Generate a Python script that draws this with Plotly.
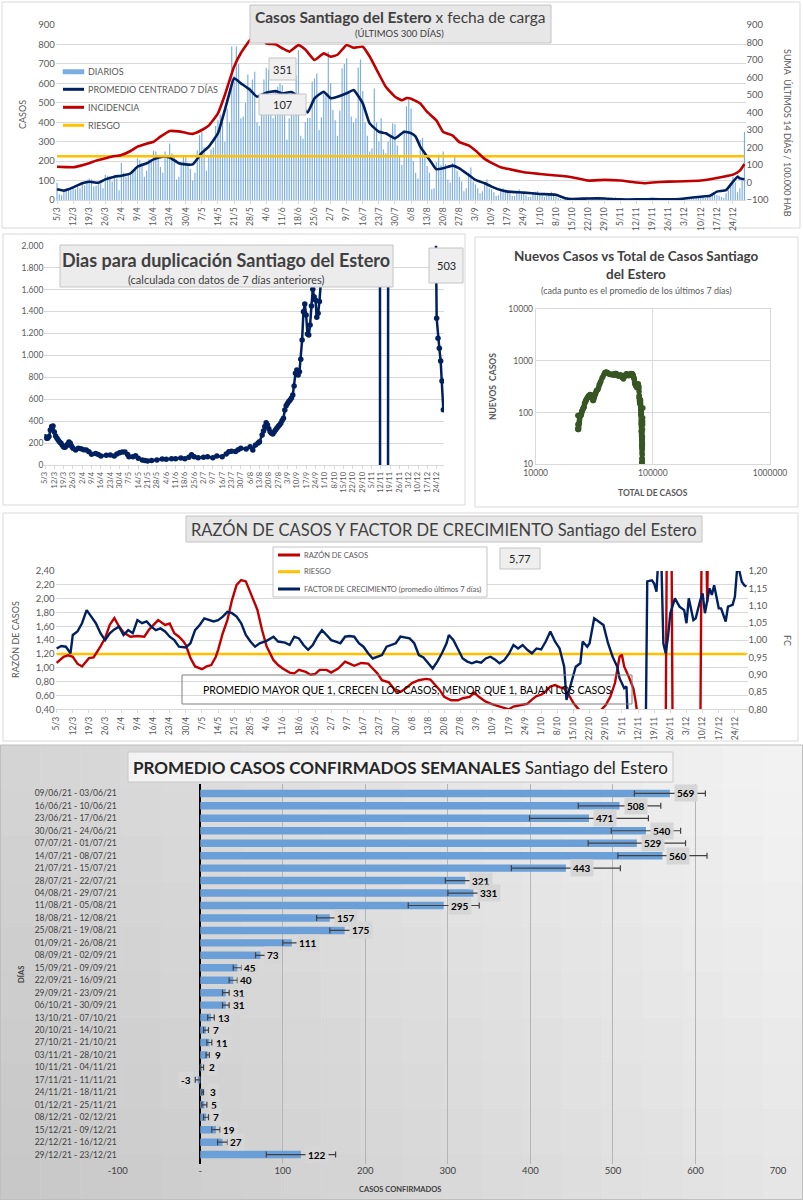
import pandas as pd
import plotly.graph_objects as go

W, H = 803, 1200
FONT = "Lato"
GREY = "#595959"
NAVY = "#002060"
RED = "#c00000"
ORANGE = "#ffc000"
BLUE_BAR = "#7aade0"


def fecha(s):
    d, m = s.split("/")
    return pd.Timestamp(2021, int(m), int(d))


# ------------------------------------------------------------------ DATA
FECHA_INICIO = "5/3"
DIAS_TOTALES = 300
FECHAS = pd.date_range(fecha(FECHA_INICIO), periods=DIAS_TOTALES, freq="D")

TICK_LABELS = ["5/3", "12/3", "19/3", "26/3", "2/4", "9/4", "16/4", "23/4", "30/4", "7/5",
               "14/5", "21/5", "28/5", "4/6", "11/6", "18/6", "25/6", "2/7", "9/7", "16/7",
               "23/7", "30/7", "6/8", "13/8", "20/8", "27/8", "3/9", "10/9", "17/9", "24/9",
               "1/10", "8/10", "15/10", "22/10", "29/10", "5/11", "12/11", "19/11", "26/11",
               "3/12", "10/12", "17/12", "24/12"]

# daily cases (DIARIOS): 5/3-10/3, then Thursday-Wednesday weeks
DIARIOS = [
    88, 30, 25, 45, 60, 55,
    50, 65, 55, 70, 60, 85, 75,
    100, 110, 105, 70, 75, 85, 100,
    60, 130, 125, 120, 95, 130, 110,
    50, 190, 140, 120, 135, 130, 145,
    170, 215, 205, 190, 120, 150, 210,
    210, 255, 250, 230, 170, 140, 250,
    230, 290, 240, 225, 105, 120, 190,
    230, 220, 175, 160, 100, 140, 255,
    335, 350, 270, 150, 220, 260, 270,
    380, 410, 440, 400, 300, 470, 400,
    790, 640, 790, 700, 420, 430, 500,
    645, 580, 620, 660, 400, 380, 495,
    620, 680, 670, 450, 420, 560, 583,
    600, 590, 520, 310, 420, 560, 556,
    640, 770, 330, 315, 400, 420, 422,
    610, 625, 650, 360, 425, 560, 550,
    763, 600, 463, 410, 330, 460, 677,
    700, 729, 560, 430, 400, 420, 681,
    722, 560, 400, 330, 250, 265, 574,
    400, 300, 420, 260, 240, 300, 327,
    395, 390, 280, 230, 180, 360, 482,
    515, 470, 200, 140, 110, 310, 320,
    240, 175, 140, 55, 60, 195, 234,
    180, 250, 185, 105, 90, 190, 225,
    150, 120, 95, 45, 60, 140, 167,
    95, 80, 60, 35, 45, 90, 106,
    60, 55, 40, 20, 25, 55, 60,
    55, 50, 35, 20, 20, 45, 55,
    40, 40, 25, 15, 15, 40, 42,
    45, 35, 25, 15, 20, 35, 42,
    25, 20, 10, 5, 3, 12, 16,
    10, 9, 6, 3, 2, 8, 11,
    15, 14, 8, 5, 6, 12, 17,
    12, 11, 7, 4, 5, 10, 14,
    4, 3, 2, 0, 1, 2, 2,
    2, 1, -30, 0, 1, 2, 3,
    4, 3, 3, 2, 1, 4, 4,
    6, 5, 5, 3, 3, 6, 7,
    9, 8, 6, 4, 5, 8, 9,
    15, 18, 16, 10, 14, 25, 35,
    30, 25, 22, 15, 12, 35, 50,
    80, 120, 90, 40, 60, 113, 351,
]
TOTAL_PREVIO = 22800  # accumulated cases before 5/3

PROM7_FECHAS = ["5/3", "8/3", "10/3", "12/3", "16/3", "19/3", "23/3", "26/3", "30/3", "2/4",
                "6/4", "9/4", "13/4", "16/4", "20/4", "23/4", "27/4", "30/4", "3/5", "7/5",
                "10/5", "14/5", "17/5", "19/5", "21/5", "24/5", "28/5", "31/5", "4/6", "8/6",
                "11/6", "15/6", "18/6", "20/6", "22/6", "25/6", "29/6", "2/7", "5/7", "9/7",
                "12/7", "16/7", "19/7", "23/7", "26/7", "30/7", "3/8", "6/8", "8/8", "10/8",
                "13/8", "15/8", "17/8", "20/8", "24/8", "27/8", "31/8", "3/9", "7/9", "10/9",
                "14/9", "17/9", "24/9", "1/10", "8/10", "12/10", "15/10", "22/10", "29/10",
                "5/11", "12/11", "19/11", "26/11", "3/12", "10/12", "14/12", "17/12", "21/12",
                "24/12", "26/12", "27/12", "29/12"]
PROM7 = [55, 48, 55, 65, 86, 94, 89, 106, 120, 125,
         137, 171, 189, 209, 223, 219, 189, 183, 183, 243,
         274, 343, 463, 550, 626, 600, 566, 531, 552, 560,
         548, 555, 530, 480, 450, 523, 557, 523, 531, 549,
         566, 497, 394, 351, 343, 317, 351, 343, 326, 274,
         223, 190, 158, 163, 177, 163, 129, 103, 86, 69,
         51, 43, 38, 31, 27, 9, 5, 8, 8,
         3, 3, 5, 3, 8, 17, 22, 43, 51,
         94, 120, 111, 107]

INCID_FECHAS = ["5/3", "9/3", "12/3", "15/3", "19/3", "22/3", "26/3", "29/3", "2/4", "6/4",
                "9/4", "13/4", "16/4", "19/4", "23/4", "27/4", "30/4", "3/5", "7/5", "10/5",
                "14/5", "17/5", "21/5", "24/5", "28/5", "31/5", "2/6", "4/6", "8/6", "11/6",
                "14/6", "18/6", "21/6", "25/6", "29/6", "2/7", "5/7", "9/7", "12/7", "16/7",
                "19/7", "23/7", "26/7", "30/7", "2/8", "4/8", "6/8", "10/8", "13/8", "17/8",
                "20/8", "24/8", "27/8", "31/8", "3/9", "7/9", "10/9", "14/9", "17/9", "24/9",
                "1/10", "8/10", "15/10", "22/10", "29/10", "5/11", "12/11", "16/11", "19/11",
                "26/11", "3/12", "10/12", "17/12", "24/12", "27/12", "29/12"]
INCIDENCIA = [90, 88, 87, 95, 110, 125, 138, 148, 157, 180,
              205, 222, 233, 262, 294, 292, 284, 278, 300, 325,
              395, 500, 662, 740, 814, 835, 840, 795, 790, 767,
              748, 785, 760, 700, 738, 719, 730, 786, 770, 776,
              720, 620, 547, 490, 470, 482, 479, 451, 403, 355,
              288, 269, 231, 212, 183, 135, 112, 87, 78, 59,
              49, 40, 30, 11, 15, 11, 0, -4, 0,
              5, 7, 11, 26, 45, 68, 106]
RIESGO_INCIDENCIA = 150

DUP_FECHAS = ["5/3", "6/3", "7/3", "8/3", "9/3", "10/3", "11/3", "12/3", "13/3", "14/3",
              "15/3", "16/3", "17/3", "18/3", "19/3", "20/3", "21/3", "22/3", "23/3", "24/3",
              "25/3", "26/3", "28/3", "30/3", "1/4", "3/4", "5/4", "7/4", "9/4", "12/4",
              "14/4", "16/4", "20/4", "23/4", "26/4", "28/4", "30/4", "2/5", "4/5", "6/5",
              "7/5", "10/5", "12/5", "14/5", "17/5", "19/5", "21/5", "24/5", "28/5", "1/6",
              "4/6", "8/6", "11/6", "15/6", "18/6", "21/6", "23/6", "25/6", "28/6", "2/7",
              "5/7", "9/7", "12/7", "16/7", "19/7", "21/7", "23/7", "26/7", "28/7", "30/7",
              "3/8", "6/8", "8/8", "10/8", "12/8", "13/8", "15/8", "16/8", "17/8", "18/8",
              "19/8", "20/8", "21/8", "22/8", "23/8", "24/8", "25/8", "26/8", "27/8", "28/8",
              "29/8", "30/8", "31/8", "1/9", "2/9", "3/9", "4/9", "5/9", "6/9", "7/9",
              "8/9", "9/9", "10/9", "11/9", "12/9", "13/9", "14/9", "15/9", "16/9", "17/9",
              "18/9", "19/9", "20/9", "21/9", "22/9", "23/9", "24/9", "25/9", "26/9", "27/9",
              "28/9", "29/9", "6/10", "15/10", "25/10", "5/11", "11/11", "12/11", "17/11", "18/11",
              "30/11", "10/12", "20/12", "23/12", "24/12", "25/12", "26/12", "27/12", "28/12", "29/12"]
DUPLICACION = [258, 245, 243, 260, 319, 350, 356, 300, 265, 243,
               225, 210, 198, 180, 165, 161, 173, 190, 210, 198,
               170, 152, 137, 152, 148, 140, 137, 120, 97, 106,
               95, 82, 88, 91, 82, 100, 112, 118, 119, 95,
               76, 76, 85, 61, 46, 40, 36, 40, 46, 55,
               52, 58, 58, 64, 58, 70, 94, 76, 67, 70,
               76, 67, 82, 76, 100, 120, 125, 122, 140, 152,
               146, 167, 137, 182, 200, 213, 274, 310, 350, 386,
               365, 330, 304, 290, 283, 300, 319, 335, 350, 365,
               380, 405, 426, 502, 540, 562, 580, 593, 610, 638,
               720, 836, 866, 821, 851, 964, 1140, 1398, 1468, 1368,
               1195, 1186, 1277, 1450, 1602, 1535, 1505, 1347, 1383, 1490,
               1657, 2600, 4000, 6000, 5000, 9000, 15000, -15000, -15000, 15000,
               12000, 8000, 3500, 2600, 1338, 1155, 1064, 948, 766, 503]

RAZON_FECHAS = ["5/3", "8/3", "10/3", "12/3", "14/3", "16/3", "19/3", "21/3", "24/3", "26/3",
                "28/3", "30/3", "1/4", "3/4", "6/4", "9/4", "12/4", "14/4", "16/4", "18/4",
                "21/4", "23/4", "25/4", "27/4", "29/4", "30/4", "2/5", "4/5", "7/5", "9/5",
                "11/5", "13/5", "14/5", "16/5", "18/5", "20/5", "22/5", "24/5", "26/5", "28/5",
                "31/5", "2/6", "4/6", "7/6", "9/6", "11/6", "14/6", "16/6", "18/6", "21/6",
                "23/6", "25/6", "27/6", "30/6", "2/7", "5/7", "8/7", "10/7", "12/7", "15/7",
                "18/7", "20/7", "22/7", "24/7", "27/7", "30/7", "1/8", "4/8", "6/8", "9/8",
                "12/8", "14/8", "16/8", "18/8", "20/8", "23/8", "26/8", "28/8", "31/8", "2/9",
                "4/9", "7/9", "10/9", "13/9", "15/9", "17/9", "19/9", "21/9", "23/9", "25/9",
                "27/9", "29/9", "1/10", "3/10", "5/10", "7/10", "9/10", "11/10", "13/10", "15/10",
                "17/10", "19/10", "22/10", "25/10", "27/10", "29/10", "31/10", "2/11", "4/11", "5/11",
                "6/11", "8/11", "10/11", "11/11", "12/11", "13/11", "24/11", "25/11", "26/11", "27/11",
                "9/12", "10/12", "11/12", "12/12", "13/12", "20/12", "29/12"]
RAZON = [1.07, 1.16, 1.18, 1.16, 1.06, 1.02, 1.14, 1.15, 1.31, 1.43,
         1.62, 1.72, 1.60, 1.51, 1.45, 1.46, 1.45, 1.55, 1.62, 1.69,
         1.62, 1.64, 1.50, 1.45, 1.38, 1.33, 1.14, 1.02, 0.98, 1.02,
         1.04, 1.16, 1.26, 1.50, 1.69, 1.98, 2.20, 2.27, 2.25, 2.08,
         1.84, 1.55, 1.31, 1.11, 1.04, 0.99, 0.93, 0.92, 0.97, 0.94,
         0.90, 0.91, 0.97, 0.97, 0.93, 0.99, 1.09, 1.06, 1.03, 1.07,
         1.06, 0.99, 0.92, 0.82, 0.79, 0.66, 0.65, 0.72, 0.78, 0.82,
         0.84, 0.83, 0.75, 0.68, 0.58, 0.53, 0.53, 0.56, 0.58, 0.64,
         0.58, 0.51, 0.47, 0.44, 0.41, 0.40, 0.44, 0.45, 0.46, 0.48,
         0.54, 0.59, 0.61, 0.66, 0.73, 0.75, 0.72, 0.70, 0.61, 0.49,
         0.41, 0.34, 0.25, 0.29, 0.39, 0.46, 0.58, 0.78, 1.16, 1.19,
         1.02, 0.87, 0.70, 0.51, 0.29, 0.0, 0.0, 6.0, 6.0, 0.0,
         0.0, 5.0, 4.0, 1.95, 4.5, 5.0, 5.77]
RIESGO_RAZON = 1.2

FC_FECHAS = ["5/3", "7/3", "9/3", "11/3", "12/3", "14/3", "16/3", "18/3", "20/3", "22/3",
             "24/3", "26/3", "28/3", "30/3", "1/4", "3/4", "5/4", "7/4", "9/4", "11/4",
             "13/4", "15/4", "17/4", "19/4", "21/4", "23/4", "25/4", "27/4", "30/4", "2/5",
             "4/5", "6/5", "8/5", "10/5", "12/5", "14/5", "16/5", "18/5", "20/5", "22/5",
             "24/5", "26/5", "28/5", "30/5", "1/6", "4/6", "7/6", "9/6", "12/6", "14/6",
             "16/6", "18/6", "20/6", "22/6", "24/6", "26/6", "28/6", "30/6", "2/7", "4/7",
             "6/7", "8/7", "10/7", "12/7", "14/7", "16/7", "18/7", "20/7", "22/7", "24/7",
             "26/7", "28/7", "30/7", "1/8", "3/8", "5/8", "7/8", "9/8", "11/8", "13/8",
             "15/8", "17/8", "19/8", "21/8", "22/8", "24/8", "26/8", "28/8", "30/8", "1/9",
             "3/9", "5/9", "7/9", "9/9", "11/9", "13/9", "15/9", "17/9", "19/9", "21/9",
             "23/9", "25/9", "27/9", "29/9", "1/10", "3/10", "5/10", "7/10", "9/10", "11/10",
             "12/10", "14/10", "16/10", "18/10", "19/10", "21/10", "22/10", "24/10", "26/10", "28/10",
             "30/10", "1/11", "3/11", "4/11", "6/11", "7/11", "8/11", "9/11", "15/11", "16/11",
             "18/11", "19/11", "20/11", "21/11", "22/11", "23/11", "24/11", "25/11", "26/11", "28/11",
             "30/11", "2/12", "3/12", "4/12", "6/12", "7/12", "9/12", "10/12", "11/12", "13/12",
             "14/12", "15/12", "17/12", "18/12", "20/12", "21/12", "23/12", "24/12", "25/12", "26/12",
             "27/12", "28/12", "29/12"]
FC = [0.976, 0.983, 0.981, 0.962, 1.015, 1.025, 1.049, 1.087, 1.068, 1.049,
      1.020, 1.000, 1.020, 1.031, 1.039, 1.015, 1.029, 1.020, 1.058, 1.049,
      1.054, 1.039, 1.029, 1.034, 1.025, 1.010, 1.000, 0.981, 0.979, 0.991,
      1.029, 1.044, 1.063, 1.058, 1.054, 1.058, 1.068, 1.082, 1.078, 1.068,
      1.049, 1.015, 0.996, 0.981, 0.991, 0.998, 1.010, 0.996, 0.993, 0.986,
      1.010, 1.005, 0.986, 0.972, 0.986, 1.010, 1.029, 1.015, 1.000, 0.996,
      0.991, 1.010, 1.012, 1.010, 0.991, 0.981, 0.962, 0.947, 0.952, 0.957,
      0.981, 0.986, 0.991, 1.010, 1.007, 1.005, 0.991, 0.957, 0.950, 0.933,
      0.918, 0.938, 0.962, 0.991, 1.015, 1.000, 0.972, 0.947, 0.938, 0.933,
      0.938, 0.935, 0.947, 0.952, 0.944, 0.933, 0.942, 0.960, 0.986, 0.976,
      0.986, 0.972, 0.962, 0.976, 0.973, 0.996, 1.025, 0.996, 0.976, 0.923,
      0.827, 0.875, 0.923, 0.933, 0.996, 0.981, 0.991, 1.063, 1.054, 1.044,
      0.991, 0.952, 0.923, 0.890, 0.861, 0.866, 0.700, 0.500, 0.500, 1.170,
      1.173, 1.164, 1.140, 1.260, 1.260, 0.990, 0.962, 1.010, 1.078, 1.121,
      1.097, 1.087, 1.049, 1.121, 1.058, 1.063, 1.116, 1.135, 1.078, 1.150,
      1.131, 1.159, 1.092, 1.092, 1.054, 1.097, 1.102, 1.126, 1.210, 1.198,
      1.169, 1.159, 1.155]

SEMANAS = ["09/06/21 - 03/06/21", "16/06/21 - 10/06/21", "23/06/21 - 17/06/21",
           "30/06/21 - 24/06/21", "07/07/21 - 01/07/21", "14/07/21 - 08/07/21",
           "21/07/21 - 15/07/21", "28/07/21 - 22/07/21", "04/08/21 - 29/07/21",
           "11/08/21 - 05/08/21", "18/08/21 - 12/08/21", "25/08/21 - 19/08/21",
           "01/09/21 - 26/08/21", "08/09/21 - 02/09/21", "15/09/21 - 09/09/21",
           "22/09/21 - 16/09/21", "29/09/21 - 23/09/21", "06/10/21 - 30/09/21",
           "13/10/21 - 07/10/21", "20/10/21 - 14/10/21", "27/10/21 - 21/10/21",
           "03/11/21 - 28/10/21", "10/11/21 - 04/11/21", "17/11/21 - 11/11/21",
           "24/11/21 - 18/11/21", "01/12/21 - 25/11/21", "08/12/21 - 02/12/21",
           "15/12/21 - 09/12/21", "22/12/21 - 16/12/21", "29/12/21 - 23/12/21"]
PROMEDIO_SEMANAL = [569, 508, 471, 540, 529, 560, 443, 321, 331, 295,
                    157, 175, 111, 73, 45, 40, 31, 31, 13, 7,
                    11, 9, 2, -3, 3, 5, 7, 19, 27, 122]
ERROR_SEMANAL = [43, 50, 72, 42, 59, 54, 66, 24, 31, 43,
                 16, 18, 11, 6, 5, 5, 4, 4, 4, 3,
                 3, 2, 2, 3, 1, 3, 3, 5, 6, 42]
BAR_TICKS = [-100, 0, 100, 200, 300, 400, 500, 600, 700]
BAR_TICK_TEXT = ["-100", "-", "100", "200", "300", "400", "500", "600", "700"]

# ------------------------------------------------------------------ helpers
assert len(DIARIOS) == DIAS_TOTALES
TICKS = [fecha(s) for s in TICK_LABELS]
X_RANGE = [FECHAS[0] - pd.Timedelta(hours=12), FECHAS[-1] + pd.Timedelta(hours=12)]
serie = pd.Series(DIARIOS, index=FECHAS, dtype=float)
TOTAL_CASOS = TOTAL_PREVIO + serie.cumsum()
NUEVOS_7D = serie.rolling(7, min_periods=1).mean()

shapes, annots = [], []


def PX(x):
    return x / W


def PY(y):
    return 1 - y / H


def rect(x0, y0, x1, y1, fill="rgba(0,0,0,0)", line="#d9d9d9", lw=1, layer="below"):
    shapes.append(dict(type="rect", xref="paper", yref="paper", x0=PX(x0), x1=PX(x1),
                       y0=PY(y1), y1=PY(y0), fillcolor=fill,
                       line=dict(color=line, width=lw), layer=layer))


def seg(x0, x1, y, color, lw):
    shapes.append(dict(type="line", xref="paper", yref="paper", x0=PX(x0), x1=PX(x1),
                       y0=PY(y), y1=PY(y), line=dict(color=color, width=lw), layer="above"))


def label(x, y, s, size, color=GREY, angle=0, xanchor="center"):
    annots.append(dict(xref="paper", yref="paper", x=PX(x), y=PY(y), text=s, showarrow=False,
                       textangle=angle, xanchor=xanchor, yanchor="middle",
                       font=dict(family=FONT, size=size, color=color)))


# bottom panel gradient background
NC, NR = 20, 10
for i in range(NC):
    for j in range(NR):
        fx, fy = (i + 0.5) / NC, (j + 0.5) / NR
        v = int(round(212 + 32 * fx - 14 * fy))
        x0 = i * W / NC
        y0 = 745 + j * (H - 745) / NR
        shapes.append(dict(type="rect", xref="paper", yref="paper",
                           x0=PX(x0), x1=PX(x0 + W / NC + 0.5),
                           y0=PY(y0 + (H - 745) / NR + 0.5), y1=PY(y0),
                           fillcolor=f"rgb({v},{v},{v})", line=dict(width=0), layer="below"))
rect(0.5, 745, 802.5, 1199.5, line="#bfbfbf")

# panel frames
rect(2, 2, 800, 228)
rect(3, 234, 465, 505)
rect(475, 237, 798, 507)
rect(3, 513, 798, 741)

# ---------------- panel 1 texts
rect(250, 5, 551, 43, fill="#e7e7e7", line="#c4c4c4", layer="above")
label(400, 17, "<b>Casos Santiago del Estero</b> x fecha de carga", 15.5, "#404040")
label(399, 34, "(ÚLTIMOS 300 DÍAS)", 9.5, "#404040")
rect(269, 58, 296, 80, fill="#efefef", line="#c4c4c4", layer="above")
label(282.5, 69, str(DIARIOS[-1]), 11, "#262626")
rect(259, 94, 306, 115, fill="#efefef", line="#c4c4c4", layer="above")
label(282.5, 104.5, str(PROM7[-1]), 11, "#262626")
label(23, 115, "CASOS", 9, GREY, angle=-90)
label(788, 133, "SUMA  ÚLTIMOS 14 DÍAS / 100.000 HAB", 9, GREY, angle=90)
# legend panel 1
rect(63, 69.5, 84, 74, fill=BLUE_BAR, line=BLUE_BAR, lw=0.5, layer="above")
seg(63, 84, 89.3, NAVY, 3)
seg(63, 84, 107.3, RED, 3)
seg(63, 84, 125.3, ORANGE, 3)
for yy, t in [(71.7, "DIARIOS"), (89.3, "PROMEDIO CENTRADO 7 DÍAS"), (107.3, "INCIDENCIA"), (125.3, "RIESGO")]:
    label(86, yy, t, 9, GREY, xanchor="left")

# ---------------- panel 2 texts
rect(60, 245, 393, 287, fill="#ececec", line="#c4c4c4", layer="above")
label(226, 260, "<b>Dias para duplicación Santiago del Estero</b>", 18, "#404040")
label(226, 279, "(calculada con datos de 7 días anteriores)", 11, "#404040")
rect(429, 248, 463, 283, fill="#efefef", line="#c4c4c4", layer="above")
label(446, 265, str(DUPLICACION[-1]), 11, "#262626")

label(636, 256, "<b>Nuevos Casos vs Total de Casos Santiago</b>", 13.5, "#404040")
label(636, 274, "<b>del Estero</b>", 13.5, "#404040")
label(636, 291, "(cada punto es el promedio de los últimos 7 días)", 9, GREY)
label(652.8, 493, "<b>TOTAL DE CASOS</b>", 8.5, GREY)
label(493, 387, "<b>NUEVOS  CASOS</b>", 8.5, GREY, angle=-90)

# ---------------- panel 3 texts
rect(186, 516, 702, 542, fill="#e7e7e7", line="#c4c4c4", layer="above")
label(444, 529, "RAZÓN DE CASOS Y FACTOR DE CRECIMIENTO Santiago del Estero", 16.5, "#404040")
rect(273, 547, 487, 597, fill="white", line="#c4c4c4", layer="above")
seg(278, 300, 555, RED, 3)
seg(278, 300, 571.7, ORANGE, 3)
seg(278, 300, 589, NAVY, 3)
label(302, 555, "RAZÓN DE CASOS", 7.5, GREY, xanchor="left")
label(302, 571.7, "RIESGO", 7.5, GREY, xanchor="left")
label(302, 589, "FACTOR DE CRECIMIENTO (promedio últimos 7 días)", 7.5, GREY, xanchor="left")
rect(500, 548, 540, 569, fill="#efefef", line="#c4c4c4", layer="above")
label(520, 558.5, f"{RAZON[-1]:.2f}".replace(".", ","), 11, "#262626")
rect(182, 675, 632, 704, line="#7f7f7f", layer="above")
label(407, 689.5, "PROMEDIO MAYOR QUE 1, CRECEN LOS CASOS, MENOR QUE 1, BAJAN LOS CASOS", 10.5, "#000000")
label(15, 640, "RAZÓN DE CASOS", 9, GREY, angle=-90)
label(788, 640, "FC", 9, GREY, angle=90)

# ---------------- panel 4 texts
rect(128, 752, 673, 782, fill="#f3f3f3", line="#c8c8c8", layer="above")
label(400, 767, "<b>PROMEDIO CASOS CONFIRMADOS SEMANALES</b> Santiago del Estero", 17, "#262626")
label(21, 975, "<b>DÍAS</b>", 7.5, "#404040", angle=-90)
label(400, 1189, "<b>CASOS CONFIRMADOS</b>", 7.5, "#404040")
for s, v in zip(SEMANAS, PROMEDIO_SEMANAL):
    annots.append(dict(xref="x7", yref="y7", x=v, y=s, text=f"<b>{v}</b>", showarrow=False,
                       xanchor="left" if v >= 0 else "right", xshift=4 if v >= 0 else -4,
                       yanchor="middle", bgcolor="#d6d6d6", borderpad=2,
                       font=dict(family=FONT, size=10, color="#000000")))

# ------------------------------------------------------------------ traces
fig = go.Figure()
# panel 1
fig.add_trace(go.Bar(x=FECHAS, y=DIARIOS, marker=dict(color=BLUE_BAR, line=dict(width=0)),
                     width=0.5 * 86400000, xaxis="x", yaxis="y"))
fig.add_trace(go.Scatter(x=[FECHAS[0], FECHAS[-1]], y=[RIESGO_INCIDENCIA] * 2, mode="lines",
                         line=dict(color=ORANGE, width=2.5), xaxis="x", yaxis="y2"))
fig.add_trace(go.Scatter(x=[fecha(s) for s in INCID_FECHAS], y=INCIDENCIA, mode="lines",
                         line=dict(color=RED, width=2.6, shape="spline", smoothing=0.4),
                         xaxis="x", yaxis="y2"))
fig.add_trace(go.Scatter(x=[fecha(s) for s in PROM7_FECHAS], y=PROM7, mode="lines",
                         line=dict(color=NAVY, width=2.6, shape="spline", smoothing=0.4),
                         xaxis="x", yaxis="y"))
# panel 2 left
fig.add_trace(go.Scatter(x=[fecha(s) for s in DUP_FECHAS], y=DUPLICACION, mode="lines+markers",
                         line=dict(color=NAVY, width=2.5), marker=dict(color=NAVY, size=5.5),
                         xaxis="x3", yaxis="y3"))
# panel 2 right
fig.add_trace(go.Scatter(x=TOTAL_CASOS.values, y=NUEVOS_7D.values, mode="lines+markers",
                         line=dict(color="#375623", width=2), marker=dict(color="#375623", size=5.5),
                         xaxis="x4", yaxis="y4"))
# panel 3
fig.add_trace(go.Scatter(x=[FECHAS[0], FECHAS[-1]], y=[RIESGO_RAZON] * 2, mode="lines",
                         line=dict(color=ORANGE, width=2.5), xaxis="x5", yaxis="y5"))
fig.add_trace(go.Scatter(x=[fecha(s) for s in RAZON_FECHAS], y=RAZON, mode="lines",
                         line=dict(color=RED, width=2.4), xaxis="x5", yaxis="y5"))
fig.add_trace(go.Scatter(x=[fecha(s) for s in FC_FECHAS], y=FC, mode="lines",
                         line=dict(color=NAVY, width=2.4), xaxis="x5", yaxis="y6"))
# panel 4
fig.add_trace(go.Bar(y=SEMANAS, x=PROMEDIO_SEMANAL, orientation="h", width=0.6,
                     marker=dict(color="#6a9fd8", line=dict(width=0)),
                     error_x=dict(type="data", array=ERROR_SEMANAL, visible=True,
                                  color="#404040", thickness=1.2, width=3),
                     xaxis="x7", yaxis="y7"))

# ------------------------------------------------------------------ layout
tf = lambda s, c=GREY: dict(family=FONT, size=s, color=c)
date_axis = dict(type="date", range=X_RANGE, tickvals=TICKS, ticktext=TICK_LABELS, tickangle=-90,
                 showgrid=False, zeroline=False, ticks="outside", ticklen=3, tickcolor="#d9d9d9",
                 showline=True, linecolor="#d9d9d9", tickfont=tf(8.5), automargin=False)
GRID = "#d9d9d9"

fig.update_layout(
    width=W, height=H, autosize=False, margin=dict(l=0, r=0, t=0, b=0, pad=0),
    paper_bgcolor="white", plot_bgcolor="rgba(0,0,0,0)", showlegend=False,
    hovermode=False, separators=",.", font=dict(family=FONT, color=GREY),
    xaxis=dict(date_axis, domain=[PX(55.85), PX(745.6)], anchor="y"),
    yaxis=dict(domain=[PY(200), PY(25)], range=[0, 900], dtick=100, gridcolor=GRID,
               zeroline=False, tickfont=tf(9.5), anchor="x", automargin=False),
    yaxis2=dict(overlaying="y", side="right", range=[-100, 900], dtick=100, showgrid=False,
                zeroline=False, tickfont=tf(9.5), anchor="x", automargin=False),
    xaxis3=dict(date_axis, domain=[PX(44.33), PX(444)], anchor="y3", tickfont=tf(7.5)),
    yaxis3=dict(domain=[PY(465), PY(245.7)], range=[0, 2000], dtick=200, tickformat=",",
                gridcolor=GRID, zeroline=False, tickfont=tf(8.5), anchor="x3", automargin=False),
    xaxis4=dict(type="log", domain=[PX(535.7), PX(770)], range=[4, 6],
                tickvals=[1e4, 1e5, 1e6], ticktext=["10000", "100000", "1000000"],
                gridcolor=GRID, showline=True, mirror=True, linecolor=GRID, zeroline=False,
                tickfont=tf(8.5), anchor="y4", automargin=False),
    yaxis4=dict(type="log", domain=[PY(464.3), PY(309)], range=[1, 4],
                tickvals=[10, 100, 1000, 10000], ticktext=["10", "100", "1000", "10000"],
                gridcolor=GRID, showline=True, mirror=True, linecolor=GRID, zeroline=False,
                tickfont=tf(8.5), anchor="x4", automargin=False),
    xaxis5=dict(date_axis, domain=[PX(55.5), PX(747.6)], anchor="y5"),
    yaxis5=dict(domain=[PY(709.3), PY(571)], range=[0.4, 2.4], dtick=0.2, tickformat=".2f",
                gridcolor=GRID, zeroline=False, tickfont=tf(9.5), anchor="x5", automargin=False),
    yaxis6=dict(overlaying="y5", side="right", range=[0.8, 1.2], dtick=0.05, tickformat=".2f",
                showgrid=False, zeroline=False, tickfont=tf(9.5), anchor="x5", automargin=False),
    xaxis7=dict(domain=[PX(117.7), PX(778)], range=[-100, 700], tickvals=BAR_TICKS,
                ticktext=BAR_TICK_TEXT, gridcolor="#b5b5b5", zeroline=True,
                zerolinecolor="#000000", zerolinewidth=1.5, tickfont=tf(9.5, "#404040"),
                anchor="y7", automargin=False),
    yaxis7=dict(domain=[PY(1163.6), PY(784.4)], type="category", autorange="reversed",
                showgrid=False, tickfont=tf(8.5, "#404040"), anchor="x7", automargin=False),
    shapes=shapes, annotations=annots,
)

fig.write_html("out.html", config={"displayModeBar": False, "staticPlot": True},
               post_script="document.body.style.margin='0px';document.body.style.overflow='hidden';")
